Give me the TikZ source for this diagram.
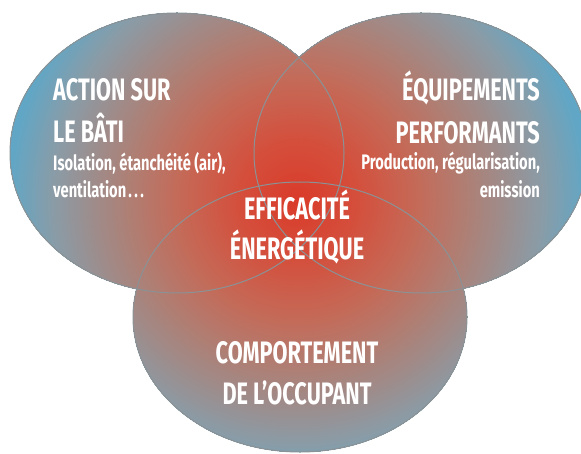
\documentclass[tikz,border=0pt]{standalone}
\usepackage{fontspec}
\newfontfamily\vfont[FakeStretch=0.70]{Fira Sans}
\definecolor{c0}{HTML}{DA3B2A}
\definecolor{c1}{HTML}{D44F3C}
\definecolor{c2}{HTML}{C56A58}
\definecolor{c3}{HTML}{B07E73}
\definecolor{c4}{HTML}{9C8E8E}
\definecolor{c5}{HTML}{8A9CA7}
\definecolor{c6}{HTML}{62A6C5}
\definecolor{c7}{HTML}{55AACC}
\definecolor{lineGrey}{HTML}{8A9296}
\begin{document}
\begin{tikzpicture}[x=1pt,y=-1pt,
  title/.style={text=white,font=\vfont\bfseries\fontsize{31}{31}\selectfont,inner sep=0pt},
  sub/.style={text=white,font=\vfont\bfseries\fontsize{21}{21}\selectfont,inner sep=0pt},
  outline/.style={draw=lineGrey,line width=1pt}]
\useasboundingbox (0,0) rectangle (581,454);
\coordinate (L) at (177,153);
\coordinate (R) at (421,153);
\coordinate (B) at (300,317);
\coordinate (H) at (298,200);
\begin{scope}
  \clip (L) ellipse [x radius=167pt,y radius=140pt]
        (R) ellipse [x radius=167pt,y radius=140pt]
        (B) ellipse [x radius=167pt,y radius=135pt];
  \fill[c7] (0,0) rectangle (581,454);
  \foreach \ra/\rb/\ca/\cb in {330/288/c7/c6,288/246/c6/c5,246/210/c5/c4,210/168/c4/c3,168/120/c3/c2,120/60/c2/c1,60/2/c1/c0}{
    \pgfmathtruncatemacro{\rn}{\ra-2}
    \foreach \r in {\ra,\rn,...,\rb}{
      \pgfmathsetmacro{\p}{100*(\r-\rb)/(\ra-\rb)}
      \fill[color=\ca!\p!\cb] (H) circle [radius=\r pt];
    }
  }
\end{scope}
\draw[outline] (L) ellipse [x radius=167pt,y radius=140pt];
\draw[outline] (R) ellipse [x radius=167pt,y radius=140pt];
\draw[outline] (B) ellipse [x radius=167pt,y radius=135pt];
% left
\node[title,anchor=base west] (l1) at (53,101) {ACTION SUR};
\node[title,anchor=base west] (l2) at (53,143) {LE BÂTI};
\node[sub,anchor=base west] (l3) at (53,171) {Isolation, étanchéité (air),};
\node[sub,anchor=base west] (l4) at (53,198) {ventilation\hspace{2pt}.\hspace{2.5pt}.\hspace{2.5pt}.};
% right
\node[title,anchor=base east] (r1) at (540,101) {ÉQUIPEMENTS};
\node[title,anchor=base east] (r2) at (540,144) {PERFORMANTS};
\node[sub,anchor=base east] (r3) at (540,170) {Production, régularisation,};
\node[sub,anchor=base east] (r4) at (540,198) {emission};
% centre
\node[title,anchor=base] (c1) at (297,220) {EFFICACITÉ};
\node[title,anchor=base] (c2) at (297,260) {ÉNERGÉTIQUE};
% bottom
\node[title,anchor=base] (b1) at (297,363) {COMPORTEMENT};
\node[title,anchor=base] (b2) at (297,404) {DE L’OCCUPANT};
\end{tikzpicture}
\end{document}
